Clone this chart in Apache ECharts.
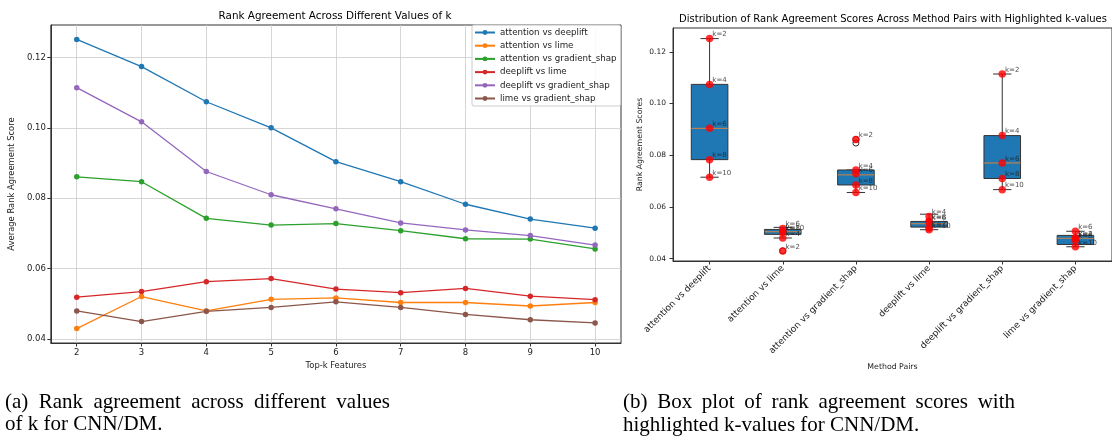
<!DOCTYPE html>
<html><head><meta charset="utf-8">
<script src="https://cdn.jsdelivr.net/npm/echarts@6/dist/echarts.min.js"></script>
<style>html,body{margin:0;padding:0;background:#fff;} #c{width:1112px;height:438px;}</style>
</head><body><div id="c"></div>
<script>
// ---------- data ----------
const kValues = [2, 3, 4, 5, 6, 7, 8, 9, 10];
const pairNames = ['attention vs deeplift', 'attention vs lime', 'attention vs gradient_shap',
  'deeplift vs lime', 'deeplift vs gradient_shap', 'lime vs gradient_shap'];
const attentionVsDeeplift     = [0.1251, 0.1174, 0.1074, 0.1000, 0.0904, 0.0847, 0.0783, 0.0741, 0.0715];
const attentionVsLime         = [0.0430, 0.0521, 0.0480, 0.0513, 0.0517, 0.0504, 0.0504, 0.0494, 0.0504];
const attentionVsGradientShap = [0.0861, 0.0847, 0.0743, 0.0724, 0.0728, 0.0708, 0.0685, 0.0684, 0.0656];
const deepliftVsLime          = [0.0519, 0.0535, 0.0563, 0.0572, 0.0542, 0.0532, 0.0544, 0.0522, 0.0512];
const deepliftVsGradientShap  = [0.1114, 0.1017, 0.0876, 0.0810, 0.0770, 0.0730, 0.0710, 0.0694, 0.0667];
const limeVsGradientShap      = [0.0480, 0.0450, 0.0479, 0.0490, 0.0506, 0.0490, 0.0470, 0.0455, 0.0446];
const highlightedK = [2, 4, 6, 8, 10];
const yTicks = [0.04, 0.06, 0.08, 0.10, 0.12];
const xTicks = [2, 3, 4, 5, 6, 7, 8, 9, 10];
const pairColors = ['#1f77b4', '#ff7f0e', '#2ca02c', '#d62728', '#9467bd', '#8c564b'];

const pairValues = [attentionVsDeeplift, attentionVsLime, attentionVsGradientShap,
  deepliftVsLime, deepliftVsGradientShap, limeVsGradientShap];

// ---------- box statistics (numpy linear percentiles, 1.5 IQR whiskers) ----------
function quantile(s, p) {
  const pos = (s.length - 1) * p, lo = Math.floor(pos), hi = Math.ceil(pos);
  return s[lo] + (s[hi] - s[lo]) * (pos - lo);
}
const boxData = [], outlierData = [], highlightData = [];
pairValues.forEach((vals, i) => {
  const s = vals.slice().sort((a, b) => a - b);
  const q1 = quantile(s, 0.25), med = quantile(s, 0.5), q3 = quantile(s, 0.75);
  const iqr = q3 - q1;
  const lo = Math.min(...s.filter(v => v >= q1 - 1.5 * iqr));
  const hi = Math.max(...s.filter(v => v <= q3 + 1.5 * iqr));
  boxData.push([i, lo, q1, med, q3, hi]);
  s.forEach(v => { if (v < lo || v > hi) outlierData.push([i, v]); });
  highlightedK.forEach(k => highlightData.push([i, vals[kValues.indexOf(k)], k]));
});

const FONT = 'DejaVu Sans';
const TXT = '#222';

// ---------- captions (justified first lines) ----------
const capFont = '21px "Liberation Serif"';
const mctx = document.createElement('canvas').getContext('2d');
mctx.font = capFont;
function justified(text, x0, x1, y) {
  const words = text.split(' ');
  const widths = words.map(w => mctx.measureText(w).width);
  const total = widths.reduce((a, b) => a + b, 0);
  const gap = (x1 - x0 - total) / (words.length - 1);
  let x = x0;
  return words.map((w, i) => {
    const el = { type: 'text', x: x, y: y, style: { text: w, font: capFont, fill: '#000', align: 'left', verticalAlign: 'middle' } };
    x += widths[i] + gap;
    return el;
  });
}
function plain(text, x, y) {
  return { type: 'text', x: x, y: y, style: { text: text, font: capFont, fill: '#000', align: 'left', verticalAlign: 'middle' } };
}

const graphics = [
  { type: 'text', x: 335, y: 16, style: { text: 'Rank Agreement Across Different Values of k', font: '10.4px "DejaVu Sans"', fill: '#000', align: 'center', verticalAlign: 'middle' } },
  { type: 'text', x: 893, y: 19.5, style: { text: 'Distribution of Rank Agreement Scores Across Method Pairs with Highlighted k-values', font: '10px "DejaVu Sans"', fill: '#000', align: 'center', verticalAlign: 'middle' } },
  ...justified('(a) Rank agreement across different values', 5, 390, 402),
  plain('of k for CNN/DM.', 5, 424),
  ...justified('(b) Box plot of rank agreement scores with', 623, 1015, 402.5),
  plain('highlighted k-values for CNN/DM.', 623, 425)
];

// ---------- series ----------
const lineSeries = pairNames.map((name, i) => ({
  name: name, type: 'line', xAxisIndex: 0, yAxisIndex: 0,
  data: kValues.map((k, j) => [k, pairValues[i][j]]),
  symbol: 'circle', symbolSize: 5.5, showSymbol: true,
  itemStyle: { color: pairColors[i] },
  lineStyle: { color: pairColors[i], width: 1.3 },
  emphasis: { disabled: true }, z: 3
}));

const boxSeries = {
  type: 'custom', xAxisIndex: 1, yAxisIndex: 1, z: 2,
  encode: { x: 0, y: [1, 2, 3, 4, 5] },
  data: boxData,
  renderItem: function (params, api) {
    const x = api.value(0);
    const pLo = api.coord([x, api.value(1)]);
    const pQ1 = api.coord([x, api.value(2)]);
    const pMed = api.coord([x, api.value(3)]);
    const pQ3 = api.coord([x, api.value(4)]);
    const pHi = api.coord([x, api.value(5)]);
    const band = api.size([1, 0])[0];
    const bw = band * 0.5, cw = band * 0.25, cx = pLo[0];
    const ls = { stroke: '#333', lineWidth: 1 };
    return { type: 'group', children: [
      { type: 'line', shape: { x1: cx, y1: pLo[1], x2: cx, y2: pQ1[1] }, style: ls },
      { type: 'line', shape: { x1: cx, y1: pQ3[1], x2: cx, y2: pHi[1] }, style: ls },
      { type: 'line', shape: { x1: cx - cw / 2, y1: pLo[1], x2: cx + cw / 2, y2: pLo[1] }, style: ls },
      { type: 'line', shape: { x1: cx - cw / 2, y1: pHi[1], x2: cx + cw / 2, y2: pHi[1] }, style: ls },
      { type: 'rect', shape: { x: cx - bw / 2, y: pQ3[1], width: bw, height: pQ1[1] - pQ3[1] }, style: { fill: '#1f77b4', stroke: '#333', lineWidth: 1 } },
      { type: 'line', shape: { x1: cx - bw / 2, y1: pMed[1], x2: cx + bw / 2, y2: pMed[1] }, style: { stroke: '#d9843f', lineWidth: 1 } }
    ] };
  }
};

const outlierSeries = {
  type: 'scatter', xAxisIndex: 1, yAxisIndex: 1, z: 3,
  data: outlierData, symbol: 'circle', symbolSize: 6,
  itemStyle: { color: 'rgba(0,0,0,0)', borderColor: '#000', borderWidth: 1 },
  emphasis: { disabled: true }
};

const highlightSeries = {
  type: 'scatter', xAxisIndex: 1, yAxisIndex: 1, z: 4,
  data: highlightData, symbol: 'circle', symbolSize: 7.5,
  itemStyle: { color: '#ff0000' },
  label: { show: true, position: 'right', distance: 0, offset: [-1, -4], fontSize: 7, fontFamily: FONT, color: TXT,
    formatter: p => 'k=' + p.value[2] },
  emphasis: { disabled: true }
};

const chart = echarts.init(document.getElementById('c'), null, { renderer: 'canvas' });
chart.setOption({
  animation: false,
  backgroundColor: '#fff',
  textStyle: { fontFamily: FONT },
  graphic: graphics,
  legend: {
    data: pairNames, orient: 'vertical', left: 472, top: 25,
    itemWidth: 20, itemHeight: 6, itemGap: 2.2,
    padding: [2, 4, 2, 2],
    backgroundColor: 'rgba(255,255,255,0.85)', borderColor: '#cccccc', borderWidth: 1, borderRadius: 2,
    textStyle: { fontSize: 8.7, fontFamily: FONT, color: TXT, lineHeight: 11, height: 11 },
    selectedMode: false
  },
  grid: [
    { left: 49, top: 25, width: 572, height: 318, show: true, borderColor: '#333', borderWidth: 1, containLabel: false },
    { left: 673, top: 28, width: 440, height: 233, show: true, borderColor: '#333', borderWidth: 1, containLabel: false }
  ],
  xAxis: [
    { type: 'value', gridIndex: 0, min: 1.6, max: 10.4,
      name: 'Top-k Features', nameLocation: 'middle', nameGap: 16,
      nameTextStyle: { fontSize: 8.4, color: TXT, fontFamily: FONT },
      axisLine: { show: true, lineStyle: { color: '#333' } },
      axisTick: { show: true, length: 3.5, lineStyle: { color: '#333' }, customValues: xTicks },
      axisLabel: { fontSize: 8.5, color: TXT, margin: 5, customValues: xTicks, formatter: v => String(v) },
      splitLine: { show: true, lineStyle: { color: '#cbcbcb', width: 0.8 } }
    },
    { type: 'category', gridIndex: 1, data: pairNames, boundaryGap: true,
      name: 'Method Pairs', nameLocation: 'middle', nameGap: 96,
      nameTextStyle: { fontSize: 7.8, color: TXT, fontFamily: FONT },
      axisLine: { show: true, lineStyle: { color: '#333' } },
      axisTick: { show: true, alignWithLabel: true, interval: 0, length: 3.5, lineStyle: { color: '#333' } },
      axisLabel: { interval: 0, rotate: 45, fontSize: 9, color: TXT, margin: 6 },
      splitLine: { show: false }
    }
  ],
  yAxis: [
    { type: 'value', gridIndex: 0, min: 0.0389, max: 0.1292,
      name: 'Average Rank Agreement Score', nameLocation: 'middle', nameGap: 28,
      nameTextStyle: { fontSize: 8.4, color: TXT, fontFamily: FONT },
      axisLine: { show: true, lineStyle: { color: '#333' } },
      axisTick: { show: true, length: 3.5, lineStyle: { color: '#333' }, customValues: yTicks },
      axisLabel: { fontSize: 8.5, color: TXT, margin: 5, customValues: yTicks, formatter: v => v.toFixed(2) },
      splitLine: { show: true, lineStyle: { color: '#cbcbcb', width: 0.8 } }
    },
    { type: 'value', gridIndex: 1, min: 0.0391, max: 0.1292,
      name: 'Rank Agreement Scores', nameLocation: 'middle', nameGap: 29,
      nameTextStyle: { fontSize: 7.8, color: TXT, fontFamily: FONT },
      axisLine: { show: true, lineStyle: { color: '#333' } },
      axisTick: { show: true, length: 3.5, lineStyle: { color: '#333' }, customValues: yTicks },
      axisLabel: { fontSize: 7.5, color: TXT, margin: 7, customValues: yTicks, formatter: v => v.toFixed(2) },
      splitLine: { show: false }
    }
  ],
  series: [...lineSeries, boxSeries, outlierSeries, highlightSeries]
});
</script></body></html>
